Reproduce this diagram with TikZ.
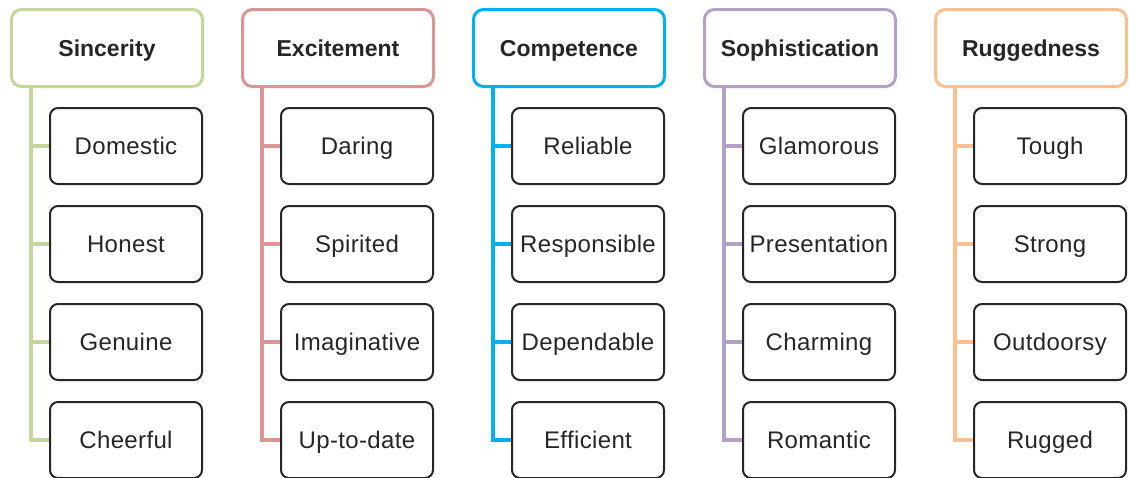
\documentclass[tikz,border=0pt]{standalone}
\usepackage{fontspec}
\setmainfont{Liberation Sans}
\newfontfamily\itemfont[LetterSpace=1.5]{Liberation Sans}
\usepackage{xcolor}
\usetikzlibrary{positioning}

\definecolor{sinc}{HTML}{C3D69B}
\definecolor{exci}{HTML}{D99694}
\definecolor{comp}{HTML}{00B0F0}
\definecolor{soph}{HTML}{B3A2C7}
\definecolor{rugg}{HTML}{FAC090}
\definecolor{ink}{HTML}{262626}

\begin{document}
\begin{tikzpicture}[
  x=1pt, y=-1pt,
  head/.style={draw, line width=3pt, rounded corners=10pt, fill=white, minimum width=191pt, minimum height=77pt, text height=18.5pt, text depth=2pt, align=center, text=ink, font=\fontsize{23}{27}\selectfont\bfseries},
  item/.style={draw=ink, line width=2pt, rounded corners=8pt, fill=white, minimum width=152pt, minimum height=76pt, text height=19pt, text depth=2pt, align=center, text=ink, font=\itemfont\fontsize{24}{28}\selectfont},
  conn/.style={line width=3.5pt}
]
\useasboundingbox (0,0) rectangle (1129,477);

% SINCERITY
\node[head, draw=sinc] (sinc) at (107, 48) {Sincerity};
\node[item] (sinc1) at (126, 146) {Domestic};
\node[item] (sinc2) at (126, 244) {Honest};
\node[item] (sinc3) at (126, 342) {Genuine};
\node[item] (sinc4) at (126, 440) {Cheerful};

\draw[conn, draw=sinc] ([xshift=21pt]sinc.south west) |- (sinc4.west);
\draw[conn, draw=sinc] ([xshift=21pt]sinc.south west) |- (sinc1.west);
\draw[conn, draw=sinc] ([xshift=21pt]sinc.south west) |- (sinc2.west);
\draw[conn, draw=sinc] ([xshift=21pt]sinc.south west) |- (sinc3.west);

% EXCITEMENT
\node[head, draw=exci] (exci) at (338, 48) {Excitement};
\node[item] (exci1) at (357, 146) {Daring};
\node[item] (exci2) at (357, 244) {Spirited};
\node[item] (exci3) at (357, 342) {Imaginative};
\node[item] (exci4) at (357, 440) {Up-to-date};

\draw[conn, draw=exci] ([xshift=21pt]exci.south west) |- (exci4.west);
\draw[conn, draw=exci] ([xshift=21pt]exci.south west) |- (exci1.west);
\draw[conn, draw=exci] ([xshift=21pt]exci.south west) |- (exci2.west);
\draw[conn, draw=exci] ([xshift=21pt]exci.south west) |- (exci3.west);

% COMPETENCE
\node[head, draw=comp] (comp) at (569, 48) {Competence};
\node[item] (comp1) at (588, 146) {Reliable};
\node[item] (comp2) at (588, 244) {Responsible};
\node[item] (comp3) at (588, 342) {Dependable};
\node[item] (comp4) at (588, 440) {Efficient};

\draw[conn, draw=comp] ([xshift=21pt]comp.south west) |- (comp4.west);
\draw[conn, draw=comp] ([xshift=21pt]comp.south west) |- (comp1.west);
\draw[conn, draw=comp] ([xshift=21pt]comp.south west) |- (comp2.west);
\draw[conn, draw=comp] ([xshift=21pt]comp.south west) |- (comp3.west);

% SOPHISTICATION
\node[head, draw=soph] (soph) at (800, 48) {Sophistication};
\node[item] (soph1) at (819, 146) {Glamorous};
\node[item] (soph2) at (819, 244) {Presentation};
\node[item] (soph3) at (819, 342) {Charming};
\node[item] (soph4) at (819, 440) {Romantic};

\draw[conn, draw=soph] ([xshift=21pt]soph.south west) |- (soph4.west);
\draw[conn, draw=soph] ([xshift=21pt]soph.south west) |- (soph1.west);
\draw[conn, draw=soph] ([xshift=21pt]soph.south west) |- (soph2.west);
\draw[conn, draw=soph] ([xshift=21pt]soph.south west) |- (soph3.west);

% RUGGEDNESS
\node[head, draw=rugg] (rugg) at (1031, 48) {Ruggedness};
\node[item] (rugg1) at (1050, 146) {Tough};
\node[item] (rugg2) at (1050, 244) {Strong};
\node[item] (rugg3) at (1050, 342) {Outdoorsy};
\node[item] (rugg4) at (1050, 440) {Rugged};

\draw[conn, draw=rugg] ([xshift=21pt]rugg.south west) |- (rugg4.west);
\draw[conn, draw=rugg] ([xshift=21pt]rugg.south west) |- (rugg1.west);
\draw[conn, draw=rugg] ([xshift=21pt]rugg.south west) |- (rugg2.west);
\draw[conn, draw=rugg] ([xshift=21pt]rugg.south west) |- (rugg3.west);

\end{tikzpicture}
\end{document}
